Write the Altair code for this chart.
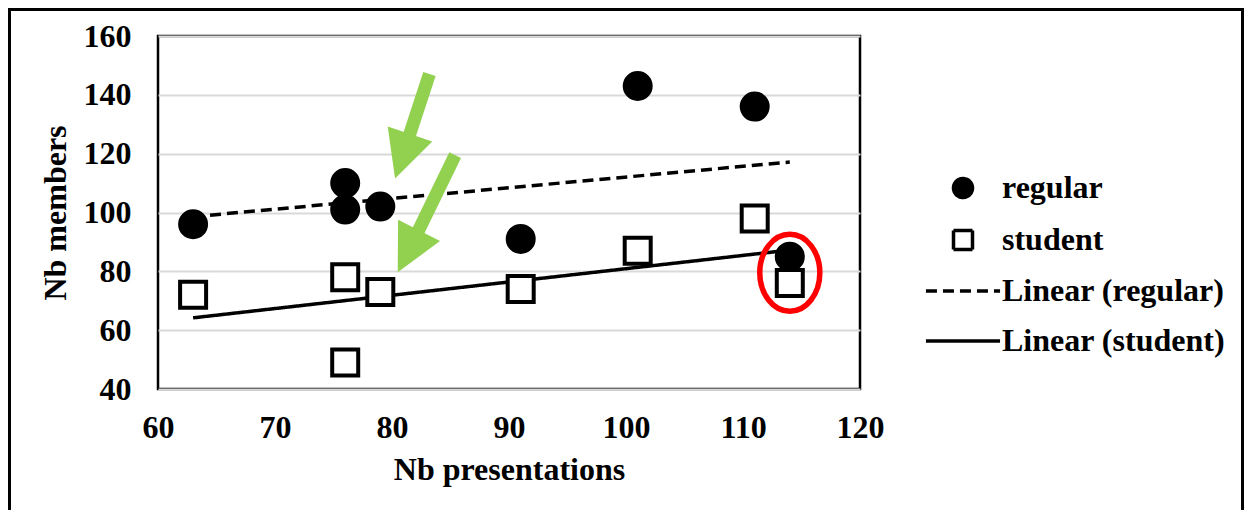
import altair as alt
import pandas as pd

# ---- data ----
presentations = [63, 76, 76, 79, 91, 101, 111, 114]
regular_members = [96, 110, 101, 102, 91, 143, 136, 85]
student_members = [72, 78, 49, 73, 74, 87, 98, 76]
legend_labels = ["regular", "student", "Linear (regular)", "Linear (student)"]
x_ticks = [60, 70, 80, 90, 100, 110, 120]
y_ticks = [40, 60, 80, 100, 120, 140, 160]

# annotations (in data coordinates)
arrow_start_x = [83.2, 85.4]
arrow_start_y = [147.1, 119.5]
arrow_head_x = [80.9, 81.4]
arrow_head_y = [119.1, 86.8]
arrow_angle = [18.5, 27]
highlight_x = [114]
highlight_y = [79.5]

FONT = "Liberation Serif"
FS = 32
W, H = 702, 353

points = pd.DataFrame({
    "x": presentations + presentations,
    "y": regular_members + student_members,
    "label": ["regular"] * len(presentations) + ["student"] * len(presentations),
})
arrows = pd.DataFrame({"sx": arrow_start_x, "sy": arrow_start_y,
                       "hx": arrow_head_x, "hy": arrow_head_y, "angle": arrow_angle})
highlight = pd.DataFrame({"x": highlight_x, "y": highlight_y})
frame = pd.DataFrame({"k": [0]})

xscale = alt.Scale(domain=[60, 120], nice=False, zero=False)
yscale = alt.Scale(domain=[40, 160], nice=False, zero=False)
xaxis = alt.Axis(values=x_ticks, grid=False, ticks=False, domain=False, labelFlush=False,
                 labelPadding=23, titlePadding=11)
yaxis = alt.Axis(values=y_ticks, grid=True, ticks=False, domain=False, labelFlush=False,
                 labelPadding=27, titlePadding=11)


def X(field):
    return alt.X(field, type="quantitative", scale=xscale, axis=xaxis, title="Nb presentations")


def Y(field):
    return alt.Y(field, type="quantitative", scale=yscale, axis=yaxis, title="Nb members")


LINE_PATH = "M -3.9 0 L 3.9 0"
shape_scale = alt.Scale(domain=legend_labels, range=["circle", "square", LINE_PATH, LINE_PATH])
fill_scale = alt.Scale(domain=legend_labels, range=["black", "white", "transparent", "transparent"])
stroke_scale = alt.Scale(domain=legend_labels, range=["black", "black", "black", "black"])
dash_scale = alt.Scale(domain=legend_labels, range=[[1, 0], [1, 0], [11, 6], [1, 0]])
leg = alt.Legend(title=None)

base = alt.Chart(points)

border = alt.Chart(frame).mark_rect(fill="transparent", stroke="black", strokeWidth=3).encode(
    x=alt.value(-148.5), x2=alt.value(W + 384 - 1.5),
    y=alt.value(-26.5), y2=alt.value(H + 200),
)

trend = base.transform_regression(
    "x", "y", groupby=["label"]
).transform_calculate(
    label='"Linear (" + datum.label + ")"'
).mark_line(strokeWidth=3.5).encode(
    x=X("x"), y=Y("y"),
    stroke=alt.Stroke("label:N", scale=stroke_scale, legend=leg),
    strokeDash=alt.StrokeDash("label:N", scale=dash_scale, legend=leg),
)

regular = base.transform_filter(alt.datum.label == "regular").mark_point(
    size=784, strokeWidth=2, opacity=1
).encode(
    x=X("x"), y=Y("y"),
    shape=alt.Shape("label:N", scale=shape_scale, legend=leg),
    fill=alt.Fill("label:N", scale=fill_scale, legend=leg),
    stroke=alt.Stroke("label:N", scale=stroke_scale, legend=leg),
)

student = base.transform_filter(alt.datum.label == "student").mark_point(
    size=676, strokeWidth=4, opacity=1
).encode(
    x=X("x"), y=Y("y"),
    shape=alt.Shape("label:N", scale=shape_scale, legend=leg),
    fill=alt.Fill("label:N", scale=fill_scale, legend=leg),
    stroke=alt.Stroke("label:N", scale=stroke_scale, legend=leg),
)

shafts = alt.Chart(arrows).mark_rule(color="#92D050", strokeWidth=13).encode(
    x=X("sx"), y=Y("sy"), x2="hx", y2="hy"
)
heads = alt.Chart(arrows).mark_point(
    shape="M 0 1 L -1 -1 L 1 -1 Z", filled=True, color="#92D050", size=2209,
    opacity=1, strokeWidth=0
).encode(
    x=X("hx"), y=Y("hy"), angle=alt.Angle("angle:Q", scale=None)
)

ellipse = alt.Chart(highlight).mark_point(
    shape="M -0.78 0 A 0.78 1 0 1 1 0.78 0 A 0.78 1 0 1 1 -0.78 0 Z",
    size=5929, stroke="#FF0000", strokeWidth=5.5, fill="transparent", opacity=1
).encode(x=X("x"), y=Y("y"))

chart = alt.layer(border, trend, regular, student, shafts, heads, ellipse).properties(
    width=W, height=H,
    autosize=alt.AutoSizeParams(type="none"),
    padding={"left": 150, "top": 28, "right": 384, "bottom": 121},
).configure_view(
    stroke="black", strokeWidth=2.5
).configure_axis(
    labelFont=FONT, labelFontSize=FS, labelFontWeight="bold", labelColor="black",
    titleFont=FONT, titleFontSize=FS, titleFontWeight="bold", titleColor="black",
    gridColor="#d9d9d9", gridWidth=2,
).configure_legend(
    orient="none", legendX=789, legendY=136, padding=0,
    labelFont=FONT, labelFontSize=FS, labelFontWeight="bold", labelColor="black",
    labelLimit=400, labelOffset=23, rowPadding=18,
    symbolSize=361, symbolStrokeWidth=3.5, symbolStrokeColor="black",
)

chart.save("out.html", embed_options={"renderer": "svg", "actions": False})
